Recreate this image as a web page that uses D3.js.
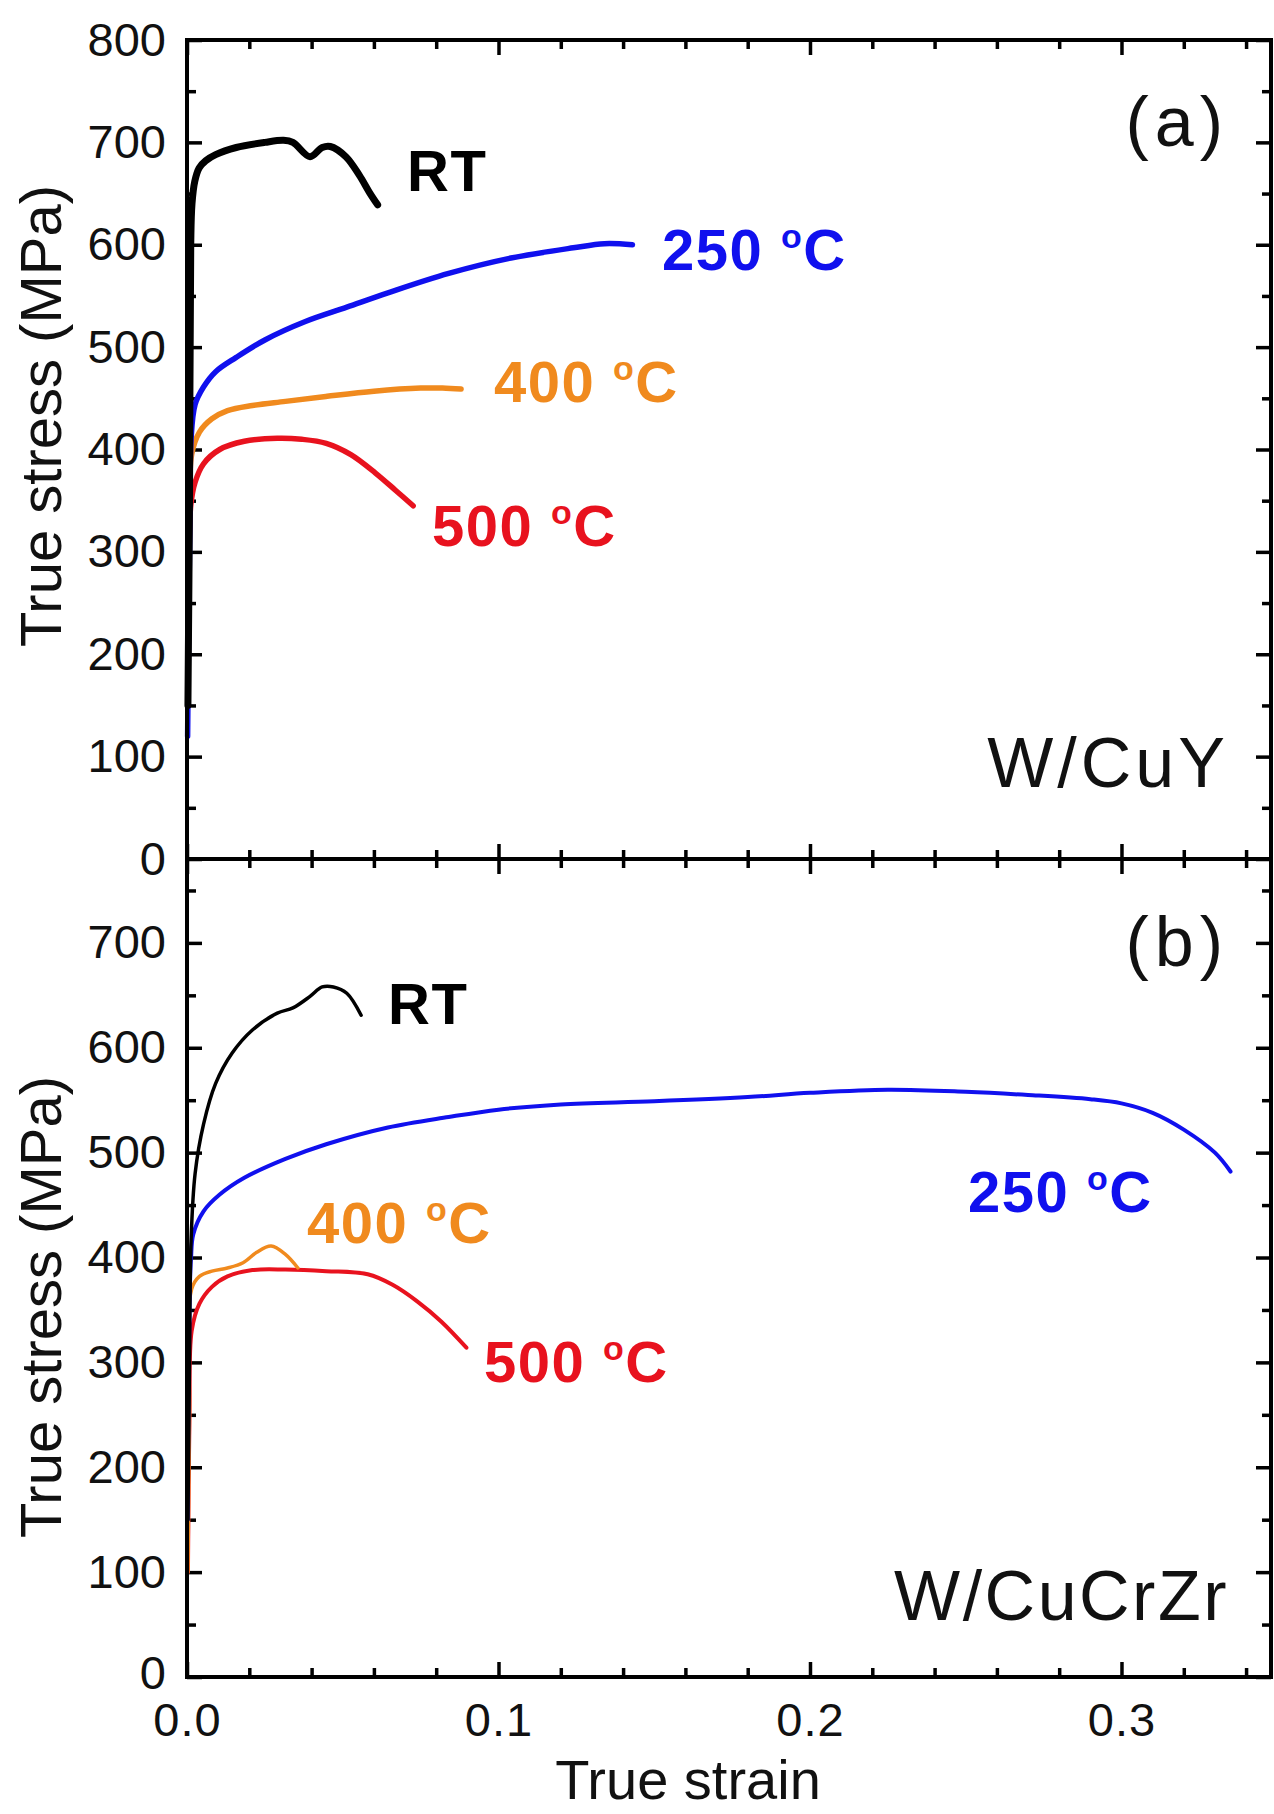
<!DOCTYPE html>
<html><head><meta charset="utf-8">
<script src="https://cdn.jsdelivr.net/npm/d3@7"></script>
<style>body{margin:0;background:#fff}svg{display:block}text{font-family:Arial,"Liberation Sans",sans-serif}</style>
</head><body>
<svg id="c" width="1274" height="1814"></svg>
<script>
// ---- data: [true strain, true stress (MPa)] ----
const a_RT  = [[0.0003,150],[0.0008,350],[0.0012,600],[0.0016,640],[0.0025,662],[0.0039,675],[0.006,682],[0.0092,688],[0.0158,695],[0.025,700],[0.031,702],[0.034,700],[0.0395,686],[0.0434,695],[0.046,696],[0.051,686],[0.0553,668],[0.0586,651],[0.0612,639]];
const a_250 = [[0.0002,120],[0.0006,250],[0.001,350],[0.0013,410],[0.0026,444],[0.0053,461],[0.0092,476],[0.0158,490],[0.025,507],[0.038,525],[0.0513,539],[0.0645,553],[0.084,572],[0.104,587],[0.124,597],[0.134,601],[0.143,600]];
const a_400 = [[0.0003,200],[0.0008,330],[0.0015,395],[0.004,417],[0.008,430],[0.013,438],[0.021,443],[0.0316,447],[0.045,452],[0.06,457],[0.075,460],[0.082,460],[0.088,459]];
const a_500 = [[0.0003,150],[0.0006,260],[0.0012,345],[0.0026,368],[0.0053,386],[0.0105,400],[0.0184,408],[0.029,411],[0.0368,410],[0.0447,406],[0.0526,395],[0.0605,377],[0.067,360],[0.0726,345]];
const b_RT  = [[0.0003,150],[0.0008,300],[0.0013,416],[0.0026,480],[0.0053,527],[0.0092,566],[0.0145,595],[0.021,617],[0.029,633],[0.034,638],[0.0395,649],[0.0434,658],[0.047,658],[0.0513,652],[0.0559,631]];
const b_250 = [[0.0002,150],[0.0006,300],[0.001,380],[0.0013,400],[0.002,422],[0.0053,444],[0.0105,460],[0.0184,476],[0.0316,494],[0.0447,508],[0.0645,524],[0.084,534],[0.1,541],[0.12,546],[0.15,549],[0.18,553],[0.2,557],[0.225,560],[0.25,558],[0.27,555],[0.29,551],[0.3,547],[0.31,538],[0.32,522],[0.33,500],[0.335,482]];
const b_400 = [[0.0003,100],[0.0008,250],[0.0015,370],[0.004,382],[0.008,387],[0.013,390],[0.018,395],[0.0224,405],[0.027,411],[0.0316,403],[0.0356,390]];
const b_500 = [[0.0003,100],[0.0008,250],[0.0015,330],[0.004,356],[0.008,372],[0.013,382],[0.021,388],[0.0316,388.5],[0.0447,387],[0.058,384],[0.066,374],[0.074,358],[0.0816,339],[0.0897,314]];

const xTickVals = [0, 0.1, 0.2, 0.3];
const xTickLabels = ["0.0", "0.1", "0.2", "0.3"];
const yTicksA = [0,100,200,300,400,500,600,700,800];
const yTicksB = [0,100,200,300,400,500,600,700];
const seriesLabels = ["RT", "250", "400", "500"];

// ---- layout ----
const L = 187, R = 1271, TOP = 40, MID = 859, BOT = 1677;
const colors = {RT:"#000000", "250":"#1010ee", "400":"#f08a1e", "500":"#e8121e"};
const svg = d3.select("#c");
svg.append("rect").attr("width",1274).attr("height",1814).attr("fill","#fff");

const x = d3.scaleLinear().domain([0, 0.348]).range([L, R]);
const yA = d3.scaleLinear().domain([0, 800]).range([MID, TOP]);
const yB = d3.scaleLinear().domain([0, 780]).range([BOT, MID]);

const MAJ = 15, MIN = 9;
const xMinor = d3.range(0, 0.35, 0.02).filter(v => Math.abs(v*10 - Math.round(v*10)) > 1e-6);

function styleAxis(g){
  g.select(".domain").remove();
  g.selectAll(".tick line").attr("stroke","#000").attr("stroke-width",3.5);
  g.selectAll("text").attr("font-size",47).attr("fill","#111").attr("font-family","Arial, 'Liberation Sans', sans-serif");
}
function addAxis(gen, tx, ty){
  const g = svg.append("g").attr("transform",`translate(${tx},${ty})`).call(gen);
  styleAxis(g); return g;
}
const blank = () => "";

addAxis(d3.axisTop(x).tickValues(xTickVals).tickSize(-MAJ).tickFormat(blank), 0, TOP);
addAxis(d3.axisTop(x).tickValues(xMinor).tickSize(-MIN).tickFormat(blank), 0, TOP);
addAxis(d3.axisBottom(x).tickValues(xTickVals).tickSize(-MAJ).tickFormat(blank), 0, MID);
addAxis(d3.axisBottom(x).tickValues(xMinor).tickSize(-MIN).tickFormat(blank), 0, MID);
addAxis(d3.axisTop(x).tickValues(xTickVals).tickSize(-MAJ).tickFormat(blank), 0, MID);
addAxis(d3.axisTop(x).tickValues(xMinor).tickSize(-MIN).tickFormat(blank), 0, MID);
const xb = addAxis(d3.axisBottom(x).tickValues(xTickVals).tickSize(-MAJ).tickPadding(26).tickFormat((d,i)=>xTickLabels[i]), 0, BOT);
xb.selectAll("text").attr("dy","0.71em").attr("letter-spacing",1);
addAxis(d3.axisBottom(x).tickValues(xMinor).tickSize(-MIN).tickFormat(blank), 0, BOT);

const yMinA = d3.range(50, 800, 100), yMinB = d3.range(50, 780, 100);
const la = addAxis(d3.axisLeft(yA).tickValues(yTicksA).tickSize(-MAJ).tickPadding(21).tickFormat(d3.format("d")), L, 0);
addAxis(d3.axisLeft(yA).tickValues(yMinA).tickSize(-MIN).tickFormat(blank), L, 0);
addAxis(d3.axisRight(yA).tickValues(yTicksA).tickSize(-MAJ).tickFormat(blank), R, 0);
addAxis(d3.axisRight(yA).tickValues(yMinA).tickSize(-MIN).tickFormat(blank), R, 0);
const lb = addAxis(d3.axisLeft(yB).tickValues(yTicksB).tickSize(-MAJ).tickPadding(21).tickFormat(d3.format("d")), L, 0);
lb.selectAll("text").filter(d => d === 0).attr("dy","0.25em");
addAxis(d3.axisLeft(yB).tickValues(yMinB).tickSize(-MIN).tickFormat(blank), L, 0);
addAxis(d3.axisRight(yB).tickValues(yTicksB).tickSize(-MAJ).tickFormat(blank), R, 0);
addAxis(d3.axisRight(yB).tickValues(yMinB).tickSize(-MIN).tickFormat(blank), R, 0);

function drawSeries(data, y, color, w){
  const line = d3.line().x(d=>x(d[0])).y(d=>y(d[1])).curve(d3.curveCatmullRom.alpha(0.5));
  svg.append("path").datum(data).attr("d", line).attr("fill","none")
     .attr("stroke", color).attr("stroke-width", w).attr("stroke-linejoin","round").attr("stroke-linecap","round");
}
drawSeries(a_500, yA, colors["500"], 5.5);
drawSeries(a_400, yA, colors["400"], 5.5);
drawSeries(a_250, yA, colors["250"], 5.5);
drawSeries(a_RT,  yA, colors.RT, 7);
drawSeries(b_500, yB, colors["500"], 4);
drawSeries(b_400, yB, colors["400"], 3.5);
drawSeries(b_250, yB, colors["250"], 4);
drawSeries(b_RT,  yB, colors.RT, 3.5);

svg.append("rect").attr("x",L).attr("y",TOP).attr("width",R-L).attr("height",BOT-TOP)
   .attr("fill","none").attr("stroke","#000").attr("stroke-width",4);
svg.append("line").attr("x1",L).attr("x2",R).attr("y1",MID).attr("y2",MID).attr("stroke","#000").attr("stroke-width",4);

function tempLabel(name, px, py){
  const t = svg.append("text").attr("x",px).attr("y",py).attr("font-size",58).attr("font-weight","bold")
     .attr("letter-spacing",1.5).attr("fill",colors[name]);
  if(name === "RT"){ t.text("RT"); return; }
  t.append("tspan").text(name + " ");
  t.append("tspan").attr("font-size",34).attr("dy",-22).text("o");
  t.append("tspan").attr("dy",22).text("C");
}
tempLabel("RT", 407, 191);
tempLabel("250", 662, 270);
tempLabel("400", 494, 402);
tempLabel("500", 432, 546);
tempLabel("RT", 388, 1024);
tempLabel("400", 307, 1243);
tempLabel("250", 968, 1212);
tempLabel("500", 484, 1382);

function note(txt, px, py, ls){
  svg.append("text").attr("x",px).attr("y",py).attr("text-anchor","end").attr("font-size",70)
     .attr("letter-spacing",ls).attr("fill","#111").text(txt);
}
note("(a)", 1229, 146, 6);
note("(b)", 1229, 966, 6);
note("W/CuY", 1229, 787, 4);
note("W/CuCrZr", 1229, 1620, 2.5);

svg.append("text").attr("transform","translate(61,416) rotate(-90)").attr("text-anchor","middle").attr("font-size",58).attr("fill","#111").text("True stress (MPa)");
svg.append("text").attr("transform","translate(61,1307) rotate(-90)").attr("text-anchor","middle").attr("font-size",58).attr("fill","#111").text("True stress (MPa)");
svg.append("text").attr("x",688).attr("y",1799).attr("text-anchor","middle").attr("font-size",56).attr("fill","#111").text("True strain");
</script>
</body></html>
